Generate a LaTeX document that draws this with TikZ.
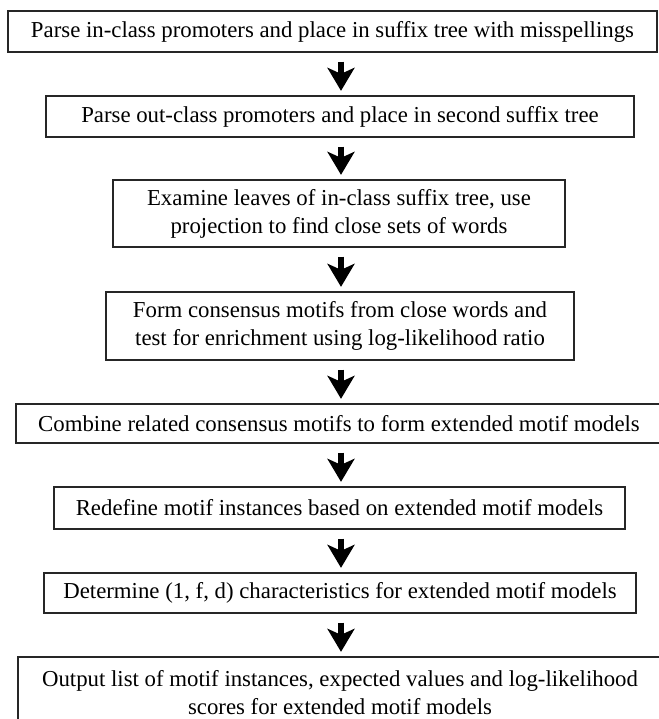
\documentclass[tikz,border=0pt]{standalone}
\usepackage{fontspec}
\setmainfont{Liberation Serif}
\usetikzlibrary{arrows.meta}

\begin{document}
\begin{tikzpicture}[x=1pt,y=-1pt,
  stepbox/.style={draw=black!85, line width=1.3pt, inner sep=0pt, align=center,
    font=\fontsize{22.8}{28}\selectfont},
  flowarrow/.style={line width=6pt, shorten <=9pt, shorten >=4.5pt,
    -{Stealth[length=23pt, width=27pt, inset=6pt]}}]
\useasboundingbox (0,0) rectangle (658,719);
\node[stepbox, minimum width=649pt, minimum height=41pt] (b1) at (332.5,31.5)
  {Parse in-class promoters and place in suffix tree with misspellings};
\node[stepbox, minimum width=588pt, minimum height=41pt] (b2) at (340,116.5)
  {Parse out-class promoters and place in second suffix tree};
\node[stepbox, minimum width=452pt, minimum height=67pt] (b3) at (339,213.5)
  {Examine leaves of in-class suffix tree, use\\ projection to find close sets of words};
\node[stepbox, minimum width=468pt, minimum height=68pt] (b4) at (340,326)
  {Form consensus motifs from close words and\\ test for enrichment using log-likelihood ratio};
\node[stepbox, minimum width=646pt, minimum height=39pt] (b5) at (339,423.5)
  {Combine related consensus motifs to form extended motif models};
\node[stepbox, minimum width=571pt, minimum height=42pt] (b6) at (339.5,508)
  {Redefine motif instances based on extended motif models};
\node[stepbox, minimum width=592pt, minimum height=40pt] (b7) at (340,593)
  {Determine (1, f, d) characteristics for extended motif models};
\node[stepbox, minimum width=644pt, minimum height=72pt] (b8) at (340,693)
  {Output list of motif instances, expected values and log-likelihood\\ scores for extended motif models};
\foreach \a/\b in {b1/b2,b2/b3,b3/b4,b4/b5,b5/b6,b6/b7,b7/b8}
  \path[draw,flowarrow] (\a.south -| 341,0) -- (\b.north -| 341,0);
\end{tikzpicture}
\end{document}
